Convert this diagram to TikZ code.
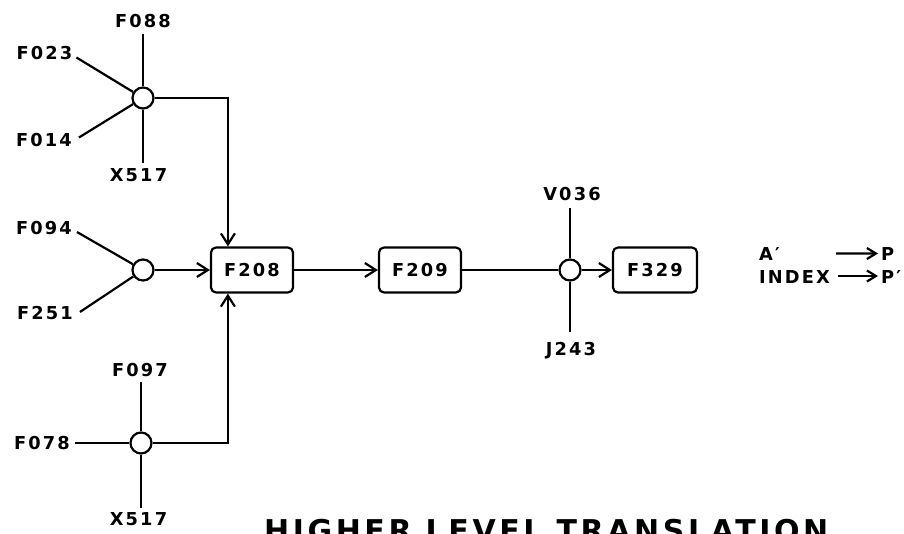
\documentclass[tikz,border=0pt]{standalone}
\usepackage{fontspec}
\setmainfont{DejaVu Sans}[LetterSpace=12,UprightFont=* Bold]
\usetikzlibrary{arrows.meta,calc}
\begin{document}
\begin{tikzpicture}[x=1pt,y=-1pt, line width=2.2pt,
  lbl/.style={inner sep=0pt, font=\fontsize{17.8}{20}\selectfont},
  fbox/.style={draw, rounded corners=5pt, minimum width=82pt, minimum height=45pt, inner sep=0pt, font=\fontsize{17.8}{20}\selectfont},
  junc/.style={draw, circle, minimum size=21pt, inner sep=0pt},
  arr/.style={-{Straight Barb[length=11pt,width=14pt,line width=2.2pt]}},
  legarr/.style={-{Straight Barb[length=9pt,width=11pt,line width=2.2pt]}}]
\useasboundingbox (0,0) rectangle (904,533);
\clip (0,0) rectangle (904,533);
% junctions and boxes
\node[junc] (j1) at (143,98) {};
\node[junc] (j2) at (143,270) {};
\node[junc] (j3) at (141,443) {};
\node[junc] (j4) at (570,270) {};
\node[fbox] (b1) at (252,270) {F208};
\node[fbox] (b2) at (420,270) {F209};
\node[fbox, minimum width=84pt] (b3) at (655,270) {F329};
% labels
\node[lbl] (F088) at (143,21.5) {F088};
\node[lbl] (F023) at (44.5,53.5) {F023};
\node[lbl] (F014) at (44,140.5) {F014};
\node[lbl] (X517a) at (138.5,175.5) {X517};
\node[lbl] (F094) at (44,228.5) {F094};
\node[lbl] (F251) at (45,313) {F251};
\node[lbl] (F097) at (140,370) {F097};
\node[lbl] (F078) at (42,443) {F078};
\node[lbl] (X517b) at (138.5,519.5) {X517};
\node[lbl] (V036) at (572,194.5) {V036};
\node[lbl] (J243) at (571,350.5) {J243};
% label connectors
\draw ($(j1|-F088.south)+(0,5)$) -- (j1);
\draw ($(F023.east)+(3,4)$) -- (j1);
\draw ($(F014.east)+(6,-3)$) -- (j1);
\draw (j1) -- ($(j1|-X517a.north)+(0,-5)$);
\draw ($(F094.east)+(4,3.5)$) -- (j2);
\draw ($(F251.east)+(6,-1)$) -- (j2);
\draw ($(j3|-F097.south)+(0,4)$) -- (j3);
\draw ($(F078.east)+(4,0)$) -- (j3);
\draw (j3) -- ($(j3|-X517b.north)+(0,-4)$);
\draw ($(j4|-V036.south)+(0,6)$) -- (j4);
\draw (j4) -- ($(j4|-J243.north)+(0,-9)$);
% main connectors
\coordinate (b1top) at ($(b1.north west)+(18,0)$);
\coordinate (b1bot) at ($(b1.south west)+(18,0)$);
\draw[arr] (j1.east) -| (b1top);
\draw[arr] (j3.east) -| (b1bot);
\draw[arr] (j2) -- (b1);
\draw[arr] (b1) -- (b2);
\draw (b2) -- (j4);
\draw[arr] (j4) -- (b3);
% legend
\node[lbl, anchor=base west] (Ap) at (758,260) {A′};
\node[lbl, anchor=base west] (P1) at (880,260) {P};
\node[lbl, anchor=base west] (idx) at (758,283) {INDEX};
\node[lbl, anchor=base west] (P2) at (880,283) {P′};
\coordinate (a1s) at (836,253.5);
\coordinate (a2s) at (838,276);
\draw[legarr] (a1s) -- ($(P1.west)+(-2,0)$);
\draw[legarr] (a2s) -- ($(P2.west|-a2s)+(-2,0)$);
% title (cut off at bottom, as in the reference)
\node[anchor=base west, inner sep=0pt, font=\fontsize{30}{36}\selectfont] (title) at (263,541) {HIGHER LEVEL TRANSLATION};
\end{tikzpicture}
\end{document}
